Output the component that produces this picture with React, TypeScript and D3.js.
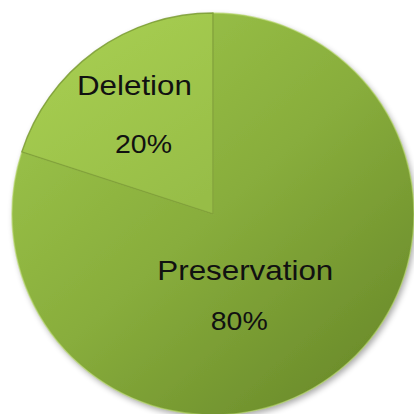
import React from "react";
import * as d3 from "d3";

const categories = ["Preservation", "Deletion"];
const values = [80, 20];
const valueLabels = ["80%", "20%"];

const W = 414;
const H = 414;
const cx = 213;
const cy = 214;
const R = 201;

export default function App() {
  const pie = d3.pie<number>().sort(null).value((d) => d);
  const arcs = pie(values);
  const arc = d3.arc<d3.PieArcDatum<number>>().innerRadius(0).outerRadius(R);
  const labelRadius = [60, 126];
  const nameOff = [[-3, 17.5], [-4.5, -17]];
  const pctOff = [[-9, 67.5], [4.5, 41]];
  const nameLen = [176, 115];

  const fills = ["url(#gPres)", "url(#gDel)"];

  return (
    <svg width={W} height={H} style={{ position: "absolute", left: 0, top: 0, background: "#fff" }}>
      <defs>
        <linearGradient id="gPres" x1="0.1" y1="0.1" x2="0.85" y2="0.95">
          <stop offset="0" stopColor="#9cc44a" />
          <stop offset="0.5" stopColor="#88ad3c" />
          <stop offset="1" stopColor="#6a8b2a" />
        </linearGradient>
        <linearGradient id="gDel" x1="0.2" y1="0" x2="0.8" y2="1">
          <stop offset="0" stopColor="#a8cf52" />
          <stop offset="1" stopColor="#97bd47" />
        </linearGradient>
        <filter id="shadow" x="-20%" y="-20%" width="140%" height="140%">
          <feGaussianBlur in="SourceAlpha" stdDeviation="3" />
          <feOffset dx="2" dy="3" result="b" />
          <feComponentTransfer>
            <feFuncA type="linear" slope="0.35" />
          </feComponentTransfer>
          <feMerge>
            <feMergeNode />
            <feMergeNode in="SourceGraphic" />
          </feMerge>
        </filter>
      </defs>
      <g transform={`translate(${cx},${cy})`}>
        <g filter="url(#shadow)">
          {arcs.map((a, i) => (
            <path key={categories[i]} d={arc(a) || ""} fill={fills[i]} />
          ))}
        </g>
        {arcs.map((a, i) => (
          <path
            key={"edge" + i}
            d={arc(a) || ""}
            fill="none"
            stroke={i === 1 ? "#7a9b33" : "#b5d66a"}
            strokeOpacity={i === 1 ? 0.85 : 0.6}
            strokeWidth={1.5}
            strokeLinejoin="round"
          />
        ))}
        {arcs.map((a, i) => {
          const [x, y] = d3
            .arc<d3.PieArcDatum<number>>()
            .innerRadius(labelRadius[i])
            .outerRadius(labelRadius[i])
            .centroid(a);
          return (
            <g key={"lab" + i} fontFamily="'Liberation Sans', Arial, sans-serif" fill="#111" textAnchor="middle">
              <text
                x={x + nameOff[i][0]}
                y={y + nameOff[i][1]}
                fontSize={28}
                textLength={nameLen[i]}
                lengthAdjust="spacingAndGlyphs"
              >
                {categories[i]}
              </text>
              <text
                x={x + pctOff[i][0]}
                y={y + pctOff[i][1]}
                fontSize={26}
                textLength={57}
                lengthAdjust="spacingAndGlyphs"
              >
                {valueLabels[i]}
              </text>
            </g>
          );
        })}
      </g>
    </svg>
  );
}
